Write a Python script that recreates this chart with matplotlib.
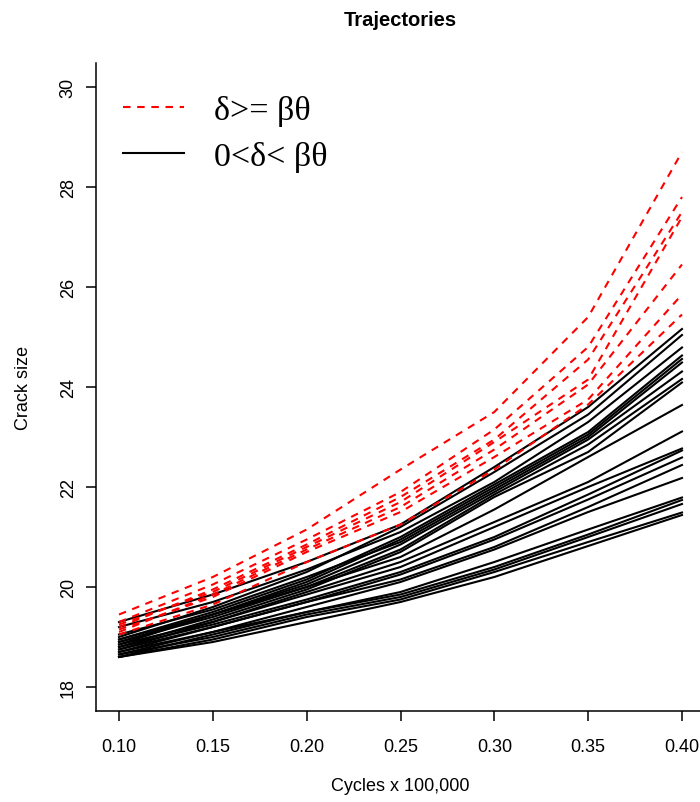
import matplotlib
matplotlib.use("Agg")
import matplotlib.pyplot as plt
import numpy as np

# measurement times (x 100,000 cycles)
cycles = [0.10, 0.15, 0.20, 0.25, 0.30, 0.35, 0.40]

# paths with delta >= beta*theta (dashed red)
fast_paths = [
    [19.45, 20.20, 21.15, 22.35, 23.50, 25.40, 28.70],
    [19.30, 20.05, 20.95, 21.90, 23.15, 24.80, 27.80],
    [19.20, 19.95, 20.85, 21.80, 22.95, 24.55, 27.50],
    [19.25, 19.90, 20.80, 21.70, 22.90, 24.15, 27.40],
    [19.10, 19.85, 20.75, 21.60, 22.75, 24.05, 26.45],
    [19.15, 19.80, 20.70, 21.50, 22.60, 23.75, 25.85],
    [19.05, 19.65, 20.50, 21.25, 22.35, 23.65, 25.45],
]

# paths with 0 < delta < beta*theta (solid black)
slow_paths = [
    [19.30, 19.85, 20.50, 21.25, 22.40, 23.60, 25.16],
    [19.00, 19.60, 20.30, 21.20, 22.30, 23.45, 25.04],
    [19.20, 19.70, 20.35, 21.10, 22.10, 23.30, 24.79],
    [18.95, 19.50, 20.15, 21.00, 22.05, 23.10, 24.63],
    [18.90, 19.45, 20.10, 20.95, 22.00, 23.05, 24.56],
    [19.05, 19.55, 20.20, 20.90, 21.95, 23.00, 24.49],
    [18.85, 19.45, 20.05, 20.85, 21.90, 22.95, 24.31],
    [18.90, 19.40, 20.00, 20.75, 21.85, 22.85, 24.16],
    [18.80, 19.35, 19.95, 20.70, 21.80, 22.70, 24.09],
    [18.95, 19.45, 20.00, 20.60, 21.55, 22.60, 23.64],
    [18.75, 19.30, 19.90, 20.50, 21.30, 22.10, 23.11],
    [18.85, 19.30, 19.85, 20.40, 21.20, 22.00, 22.77],
    [18.80, 19.25, 19.75, 20.30, 21.00, 21.85, 22.73],
    [18.70, 19.20, 19.70, 20.25, 20.95, 21.75, 22.59],
    [18.75, 19.20, 19.70, 20.15, 20.80, 21.60, 22.44],
    [18.65, 19.10, 19.60, 20.10, 20.75, 21.50, 22.18],
    [18.70, 19.10, 19.50, 19.90, 20.50, 21.15, 21.79],
    [18.60, 19.05, 19.50, 19.85, 20.40, 21.05, 21.74],
    [18.65, 19.00, 19.45, 19.80, 20.35, 21.00, 21.66],
    [18.60, 18.95, 19.40, 19.75, 20.30, 20.90, 21.49],
    [18.60, 18.90, 19.30, 19.70, 20.20, 20.82, 21.44],
]

xticks = [0.10, 0.15, 0.20, 0.25, 0.30, 0.35, 0.40]
yticks = [18, 20, 22, 24, 26, 28, 30]

plt.rcParams["font.family"] = ["Liberation Sans", "DejaVu Sans"]

fig = plt.figure(figsize=(7.0, 8.03), dpi=100)
ax = fig.add_axes([96.5 / 700, 1 - 712 / 803, 608 / 700, 648 / 803])

for i, p in enumerate(slow_paths):
    ax.plot(cycles, p, color="black", lw=1.5, solid_joinstyle="round",
            label="0<δ< βθ" if i == 0 else None)
for i, p in enumerate(fast_paths):
    ax.plot(cycles, p, color="red", lw=1.5, ls=(0, (3.6, 3.2)),
            label="δ>= βθ" if i == 0 else None)

ax.set_xlim(0.088, 0.412)
ax.set_ylim(17.52, 30.48)
ax.set_xticks(xticks)
ax.set_xticklabels([f"{t:.2f}" for t in xticks])
ax.set_yticks(yticks)
ax.set_yticklabels([str(t) for t in yticks], rotation=90, va="center")

ax.spines["top"].set_visible(False)
ax.spines["right"].set_visible(False)
for s in ("left", "bottom"):
    ax.spines[s].set_linewidth(1.1)
ax.tick_params(axis="both", length=7.2, width=1.1, labelsize=13)
ax.tick_params(axis="x", pad=12)
ax.tick_params(axis="y", pad=7)

fig.text(400 / 700, 1 - 21 / 803, "Trajectories", ha="center", va="center",
         fontsize=14.5, fontweight="bold")
fig.text(400 / 700, 1 - 787 / 803, "Cycles x 100,000", ha="center",
         va="center", fontsize=13)
fig.text(23 / 700, 1 - 388 / 803, "Crack size", ha="center", va="center",
         rotation=90, fontsize=13)

handles, labels = ax.get_legend_handles_labels()
order = [1, 0]
leg = ax.legend([handles[k] for k in order], [labels[k] for k in order],
                loc="upper left", bbox_to_anchor=(0.0436, 0.950),
                frameon=False, borderpad=0, borderaxespad=0,
                handlelength=1.8, handletextpad=0.87, labelspacing=0.42,
                prop={"family": ["Liberation Serif", "DejaVu Serif"], "size": 24.5})

fig.savefig("out.png", dpi=100)
